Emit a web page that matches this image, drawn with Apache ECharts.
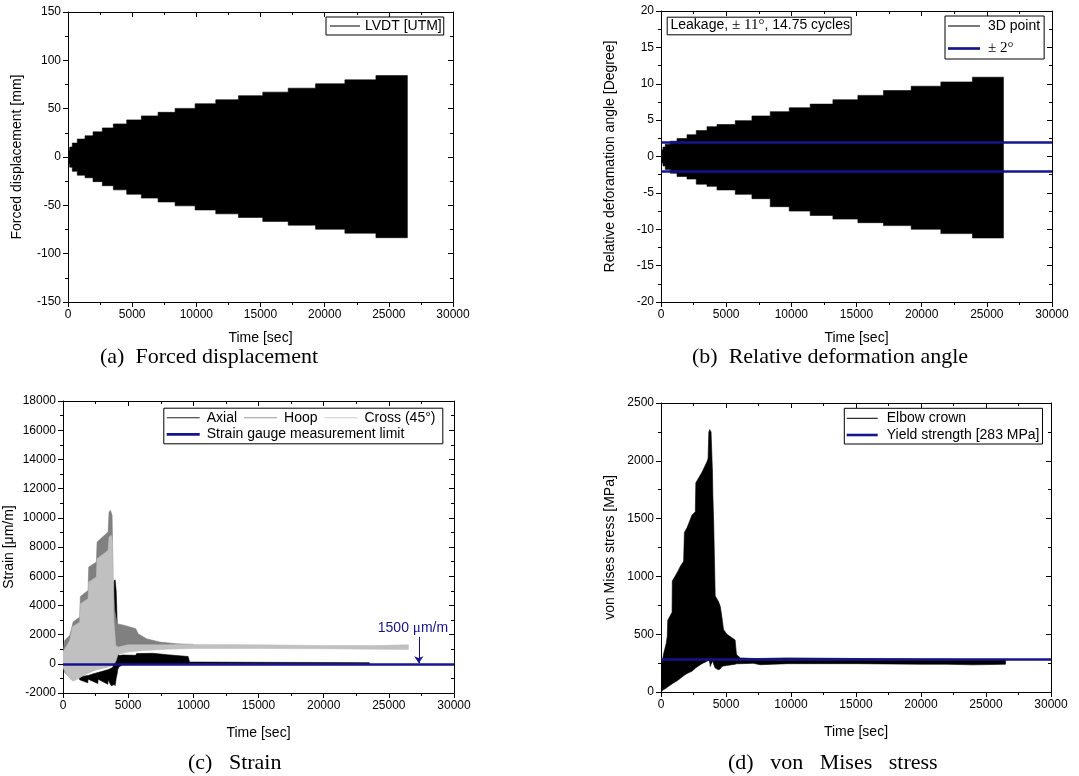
<!DOCTYPE html>
<html><head><meta charset="utf-8">
<script src="https://cdn.jsdelivr.net/npm/echarts@6/dist/echarts.min.js"></script>
<style>html,body{margin:0;padding:0;background:#fff}#c{width:1079px;height:776px}</style>
</head><body><div id="c"></div>
<script>
// ---------- (a) Forced displacement: envelope steps (value i holds from time[i] to time[i+1]) ----------
const dispTime = [0, 20, 50, 128, 335, 725, 1326, 1950, 2675, 3534, 4574, 5718, 7020, 8346, 9906, 11515, 13284, 15179, 17161, 19290, 21576, 23994, 26443];
const dispUpper = [1, 4, 7, 10.3, 14.4, 18.5, 21.9, 26.0, 30.1, 34.2, 38.4, 42.5, 46.2, 50.3, 55.1, 59.2, 63.4, 67.1, 71.2, 75.7, 79.8, 84.2];
const dispLower = [-1, -4, -7, -10.5, -14.8, -18.8, -21.5, -25.5, -29.7, -34, -38.5, -42.5, -46.5, -50.5, -54.8, -58.8, -62.5, -66.6, -70.5, -74.7, -78.8, -83.5];

// ---------- (b) Relative deformation angle ----------
const angTime = [0, 20, 60, 150, 330, 713, 1227, 1994, 2707, 3528, 4294, 5700, 6978, 8382, 9839, 11449, 13190, 15107, 17071, 19195, 21472, 23896, 26273];
const angUpper = [0.2, 0.5, 0.9, 1.3, 1.7, 2.1, 2.47, 3.0, 3.56, 4.1, 4.4, 4.93, 5.57, 6.16, 6.7, 7.2, 7.8, 8.4, 9.06, 9.66, 10.25, 10.9];
const angLower = [-0.2, -0.5, -0.9, -1.3, -1.8, -2.3, -2.75, -3.1, -3.8, -4.1, -4.6, -5.2, -5.8, -6.9, -7.5, -8.1, -8.6, -9.1, -9.5, -10.0, -10.6, -11.2];
const angLimit = [2, -2];

// ---------- (c) Strain: band envelopes ----------
const axialTime = [1250, 1282, 1900, 1922, 2670, 2690, 3440, 3458, 3700, 3850, 3930, 4000, 4080, 4150, 4180, 4200, 4300, 4600, 5580, 5650, 6900, 8000, 9600, 9700, 9750, 15000, 23500];
const axialUpper = [-900, -900, -800, -800, -600, -600, -400, -400, -300, -200, 5700, 5750, 5000, 3000, 1500, 700, 560, 600, 580, 700, 720, 620, 500, 150, 120, 100, 80];
const axialLower = [-950, -1100, -1300, -1050, -1350, -1050, -1400, -1100, -1500, -1450, -1400, -1500, -1000, -700, -550, -400, -200, -60, -50, -50, -40, -40, -40, -40, 0, 0, 0];

const hoopTime = [0, 130, 515, 720, 770, 1283, 1334, 1923, 1974, 2563, 2614, 3459, 3536, 3638, 3766, 3843, 3971, 4150, 4739, 5584, 5763, 6403, 7427, 8707, 9987];
const hoopUpper = [800, 1600, 1940, 2630, 2860, 3200, 4616, 5027, 6627, 6970, 8341, 9027, 10398, 10512, 10169, 5713, 3656, 2742, 2628, 2400, 2057, 1714, 1485, 1371, 1325];
const hoopLower = [-200, -600, -950, -1100, -1100, -900, -900, -600, -600, -380, -380, -200, -170, -150, -100, -60, 300, 1000, 1000, 1000, 1050, 1100, 1150, 1150, 1150];

const crossTime = [0, 259, 515, 720, 770, 1155, 1283, 1334, 1539, 1923, 1974, 2307, 2563, 2614, 3331, 3459, 3536, 3715, 3792, 3894, 4048, 4227, 5000, 6000, 8000, 10000, 15000, 20000, 24000, 26500];
const crossUpper = [800, 1200, 1600, 2514, 2550, 2780, 2857, 4113, 4240, 4456, 5599, 5790, 5941, 7198, 7680, 7770, 8684, 8798, 8341, 2971, 1257, 1143, 1300, 1300, 1300, 1330, 1300, 1250, 1250, 1300];
const crossLower = [-230, -690, -1000, -1150, -1190, -1030, -950, -930, -800, -650, -620, -457, -400, -390, -230, -200, -180, -120, -80, -30, 150, 650, 800, 900, 1000, 1050, 1050, 1030, 1000, 980];

const strainLimit = [0];
const arrowTime = 27300, arrowFrom = 1840, arrowTo = 40;
const arrowLabelAt = [26850, 2470];

// ---------- (d) von Mises stress ----------
const vmTime = [0, 30, 80, 200, 400, 480, 520, 850, 870, 1280, 1500, 1740, 1800, 2000, 2380, 2640, 2680, 3150, 3530, 3620, 3680, 3760, 3790, 3850, 3960, 3990, 4050, 4170, 4430, 4560, 4680, 4810, 5070, 5700, 5800, 5840, 6100, 7100, 7630, 9700, 15000, 20000, 22000, 24000, 26500];
const vmUpper = [0, 200, 250, 330, 420, 480, 620, 690, 960, 1040, 1090, 1130, 1380, 1420, 1530, 1560, 1810, 1900, 1990, 2020, 2250, 2270, 2260, 2250, 1900, 1700, 1480, 830, 780, 740, 650, 540, 500, 450, 330, 320, 295, 290, 290, 295, 290, 285, 285, 280, 280];
const vmLower = [0, 5, 10, 20, 35, 40, 45, 70, 72, 100, 120, 140, 145, 160, 180, 205, 210, 245, 265, 272, 275, 250, 221, 240, 264, 264, 240, 207, 192, 200, 220, 225, 230, 240, 244, 244, 245, 248, 236, 245, 245, 240, 240, 235, 240];
const yieldStrength = [283];

// ---------- axes ticks ----------
const timeAxis = {min: 0, max: 30000, interval: 5000};
const dispAxis = {min: -150, max: 150, interval: 50};
const angAxis = {min: -20, max: 20, interval: 5};
const strainAxis = {min: -2000, max: 18000, interval: 2000};
const stressAxis = {min: 0, max: 2500, interval: 500};

const SANS = 'Liberation Sans, Arial, Helvetica, sans-serif';
const SERIF = 'Liberation Serif, Times New Roman, serif';
const NAVY = '#14148c';
const THIN = 'path://M0,0H30V1H0Z';
const THICK = 'path://M0,0H30V2.5H0Z';

// polygon outline builders (step: value i holds over [t_i, t_i+1]; linear: point per time)
function stepPts(t, v) { const p = []; for (let i = 0; i < v.length; i++) { p.push([t[i], v[i]], [t[i + 1], v[i]]); } return p; }
function linPts(t, v) { return t.map((x, i) => [x, v[i]]); }

function bandSeries(id, xi, t, up, lo, color, step) {
  const top = step ? stepPts(t, up) : linPts(t, up);
  const bot = step ? stepPts(t, lo) : linPts(t, lo);
  return {
    type: 'custom', name: id, coordinateSystem: 'cartesian2d', xAxisIndex: xi, yAxisIndex: xi, silent: true, clip: true,
    data: top, encode: {x: 0, y: 1},
    renderItem: (params, api) => {
      if (params.dataIndex !== 0) return null;
      const pts = top.map(p => api.coord(p)).concat(bot.slice().reverse().map(p => api.coord(p)));
      return {type: 'polygon', shape: {points: pts}, style: {fill: color, stroke: color, lineWidth: 0.6}};
    }
  };
}
const legendDummy = (name, xi, color) => ({type: 'line', name: name, xAxisIndex: xi, yAxisIndex: xi, data: [], symbol: 'none',
  itemStyle: {color: color, borderWidth: 0}, lineStyle: {color: color, width: 1}});

function axesFor(g, xr, yr, xname, yname, xGap, yGap) {
  const common = {
    type: 'value', gridIndex: g,
    axisLine: {show: true, onZero: false, lineStyle: {color: '#000', width: 1}},
    splitLine: {show: false},
    minorTick: {show: true, splitNumber: 2, length: 3, lineStyle: {color: '#000'}},
  };
  const lbl = {fontFamily: SANS, fontSize: 12, color: '#000', margin: 7, formatter: v => String(v)};
  const nm = {fontFamily: SANS, fontSize: 14, color: '#000'};
  const x = [
    Object.assign({}, common, xr, {position: 'bottom', name: xname, nameLocation: 'middle', nameGap: xGap, nameTextStyle: nm,
      axisTick: {show: true, inside: false, length: 5, lineStyle: {color: '#000'}}, axisLabel: lbl}),
    Object.assign({}, common, xr, {position: 'top', axisTick: {show: true, inside: true, length: 5, lineStyle: {color: '#000'}}, axisLabel: {show: false}})
  ];
  const y = [
    Object.assign({}, common, yr, {position: 'left', name: yname, nameLocation: 'middle', nameGap: yGap, nameRotate: 90, nameTextStyle: nm,
      axisTick: {show: true, inside: false, length: 5, lineStyle: {color: '#000'}}, axisLabel: lbl}),
    Object.assign({}, common, yr, {position: 'right', axisTick: {show: true, inside: true, length: 5, lineStyle: {color: '#000'}}, axisLabel: {show: false}})
  ];
  return {x, y};
}

const A = axesFor(0, timeAxis, dispAxis, 'Time [sec]', 'Forced displacement [mm]', 29, 44);
const B = axesFor(1, timeAxis, angAxis, 'Time [sec]', 'Relative deforamation angle [Degree]', 29, 44);
const C = axesFor(2, timeAxis, strainAxis, 'Time [sec]', 'Strain [\u03bcm/m]', 33, 47);
const D = axesFor(3, timeAxis, stressAxis, 'Time [sec]', 'von Mises stress [MPa]', 33, 44);

const hline = (name, xi, vals) => ({
  type: 'line', name: name, xAxisIndex: xi, yAxisIndex: xi, data: [], symbol: 'none',
  lineStyle: {color: NAVY, width: 2.5}, itemStyle: {color: NAVY, borderWidth: 0},
  markLine: {silent: true, symbol: 'none', label: {show: false}, lineStyle: {color: NAVY, width: 2.5, type: 'solid'},
    data: vals.map(v => ({yAxis: v}))}
});

const series = [
  // (a)
  bandSeries('_disp', 0, dispTime, dispUpper, dispLower, '#000', true),
  legendDummy('LVDT [UTM]', 0, '#000'),
  // (b)
  bandSeries('_ang', 2, angTime, angUpper, angLower, '#000', true),
  legendDummy('3D point', 2, '#000'),
  hline('\u00b1 2\u00b0', 2, angLimit),
  // (c)
  bandSeries('_axial', 4, axialTime, axialUpper, axialLower, '#000000', false),
  bandSeries('_hoop', 4, hoopTime, hoopUpper, hoopLower, '#808080', false),
  bandSeries('_cross', 4, crossTime, crossUpper, crossLower, '#c0c0c0', false),
  legendDummy('Axial', 4, '#222'),
  legendDummy('Hoop', 4, '#999'),
  legendDummy('Cross (45\u00b0)', 4, '#ccc'),
  hline('Strain gauge measurement limit', 4, strainLimit),
  {type: 'line', name: '_arrow', xAxisIndex: 4, yAxisIndex: 4, data: [], symbol: 'none',
   markLine: {silent: true, symbol: ['none', 'arrow'], symbolSize: 7, label: {show: false},
     lineStyle: {color: NAVY, width: 1, type: 'solid'},
     data: [[{coord: [arrowTime, arrowFrom]}, {coord: [arrowTime, arrowTo]}]]},
   markPoint: {silent: true, symbol: 'rect', symbolSize: 1, itemStyle: {color: 'transparent'},
     label: {show: true, position: 'inside', formatter: '1500 {m|\u03bc}m/m', color: NAVY, fontFamily: SANS, fontSize: 14,
       rich: {m: {fontFamily: SERIF, fontSize: 15, color: NAVY}}},
     data: [{coord: arrowLabelAt}]}},
  // (d)
  bandSeries('_vm', 6, vmTime, vmUpper, vmLower, '#000000', false),
  legendDummy('Elbow crown', 6, '#000'),
  hline('Yield strength [283 MPa]', 6, yieldStrength)
];

const lgText = {fontFamily: SANS, fontSize: 14, color: '#000'};
const legendBase = {selectedMode: false, borderColor: '#000', borderWidth: 1, borderRadius: 0, backgroundColor: '#fff',
  textStyle: lgText, itemHeight: 14, symbolKeepAspect: true, itemStyle: {borderWidth: 0}};
const item = (name, icon) => ({name: name, icon: icon});

const option = {
  animation: false,
  backgroundColor: '#fff',
  grid: [
    {left: 68, top: 12, width: 385, height: 290, outerBoundsMode: 'none'},
    {left: 661, top: 11, width: 391, height: 291, outerBoundsMode: 'none'},
    {left: 63, top: 401, width: 391, height: 292, outerBoundsMode: 'none'},
    {left: 661, top: 403, width: 390, height: 289, outerBoundsMode: 'none'}
  ],
  xAxis: [...A.x, ...B.x, ...C.x, ...D.x],
  yAxis: [...A.y, ...B.y, ...C.y, ...D.y],
  title: [
    {text: '(a)  Forced displacement', left: 100, top: 346},
    {text: '(b)  Relative deformation angle', left: 692, top: 346},
    {text: '(c)   Strain', left: 188, top: 752},
    {text: '(d)   von   Mises   stress', left: 728, top: 752}
  ].map(t => Object.assign(t, {padding: 0, textStyle: {fontFamily: SERIF, fontSize: 22, fontWeight: 'normal', color: '#000'}})),
  legend: [
    Object.assign({}, legendBase, {left: 326, top: 17, orient: 'vertical', data: [item('LVDT [UTM]', THIN)], padding: [2, 2, 2, 4], itemWidth: 30}),
    Object.assign({}, legendBase, {left: 945, top: 16, orient: 'vertical', data: [item('3D point', THIN), item('\u00b1 2\u00b0', THICK)],
      padding: [3, 4, 3, 3], itemWidth: 32, itemGap: 8,
      formatter: n => n === '\u00b1 2\u00b0' ? '{s|\u00b1 2\u00b0}' : n,
      textStyle: Object.assign({}, lgText, {padding: [0, 0, 0, 3], rich: {s: {fontFamily: SERIF, fontSize: 15, color: '#000'}}})}),
    Object.assign({}, legendBase, {left: 166.7, top: 410.7, orient: 'horizontal',
      data: [item('Axial', THIN), item('Hoop', THIN), item('Cross (45\u00b0)', THIN)], padding: 0, itemWidth: 33, itemGap: 7,
      borderWidth: 0, backgroundColor: 'transparent', textStyle: Object.assign({}, lgText, {padding: [0, 0, 0, 2]})}),
    Object.assign({}, legendBase, {left: 166.7, top: 427.3, orient: 'horizontal', data: [item('Strain gauge measurement limit', THICK)], padding: 0, itemWidth: 33,
      borderWidth: 0, backgroundColor: 'transparent', textStyle: Object.assign({}, lgText, {padding: [0, 0, 0, 2]})}),
    Object.assign({}, legendBase, {left: 844.3, top: 408.3, orient: 'vertical', data: [item('Elbow crown', THIN), item('Yield strength [283 MPa]', THICK)],
      padding: [3, 3, 2, 2.4], itemWidth: 31, itemGap: 2.7, textStyle: Object.assign({}, lgText, {padding: [0, 0, 0, 4]})})
  ],
  graphic: [
    {type: 'rect', left: 163.3, top: 407.7, shape: {width: 279, height: 35.6}, style: {fill: '#fff', stroke: '#000', lineWidth: 1}, z: 3, silent: true},
    {type: 'rect', left: 666.7, top: 16.7, shape: {width: 184, height: 17.6}, style: {fill: '#fff', stroke: '#000', lineWidth: 1}, z: 3, silent: true},
    {type: 'text', left: 670.5, top: 18, z: 4, silent: true,
     style: {text: 'Leakage, {s|\u00b1 11\u00b0}, 14.75 cycles', fontFamily: SANS, fontSize: 14, fill: '#000',
       rich: {s: {fontFamily: SERIF, fontSize: 15, fill: '#000'}}}}
  ],
  series: series
};

const chart = echarts.init(document.getElementById('c'), null, {renderer: 'canvas'});
chart.setOption(option);
</script>
</body></html>
